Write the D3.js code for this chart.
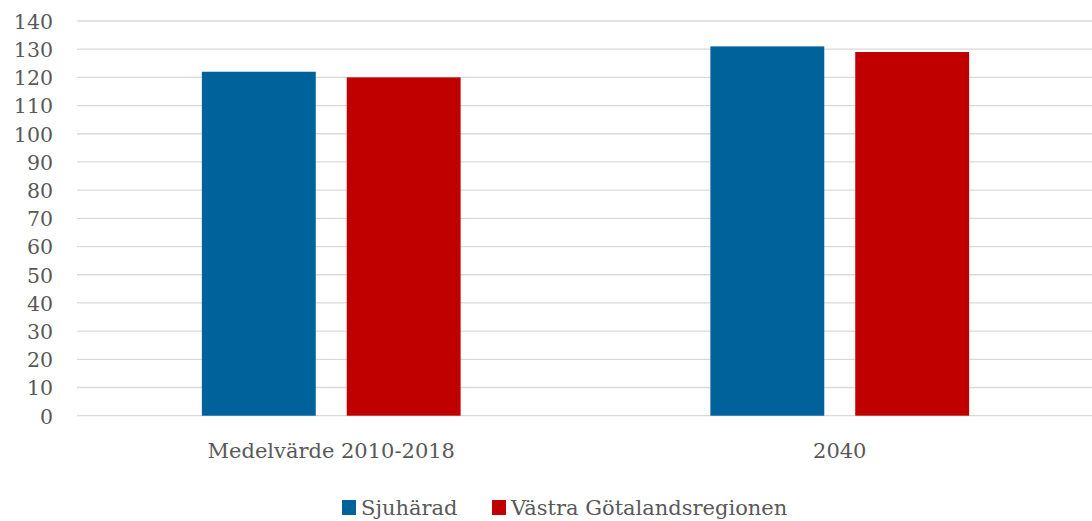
<!DOCTYPE html>
<html><head><meta charset="utf-8">
<script src="https://cdn.jsdelivr.net/npm/d3@7"></script>
<style>body{margin:0;background:#fff}svg{display:block}</style>
</head><body><svg id="c" width="1092" height="521"></svg>
<script>
const categories = ["Medelvärde 2010-2018", "2040"];
const seriesNames = ["Sjuhärad", "Västra Götalandsregionen"];
const sjuharad = [122, 131];
const vastra = [120, 129];
const yTicks = [0,10,20,30,40,50,60,70,80,90,100,110,120,130,140];
const colors = ["#00629B", "#C00000"];
const FONT = "DejaVu Serif";

const svg = d3.select("#c");
const x0 = d3.scaleBand().domain(categories).range([77, 1094]).paddingInner(0).paddingOuter(0);
const x1 = d3.scaleBand().domain(seriesNames).range([0, x0.bandwidth()]).paddingInner(0.2138).paddingOuter(0.862);
const y = d3.scaleLinear().domain([0, 140]).range([415.7, 21]);

const grid = svg.append("g");
grid.selectAll("line").data(yTicks).join("line")
  .attr("x1", 77).attr("x2", 1092)
  .attr("y1", d => y(d)).attr("y2", d => y(d))
  .attr("stroke", "#D9D9D9").attr("stroke-width", 1.3);

const yAxis = svg.append("g").attr("transform", "translate(53,0)")
  .call(d3.axisLeft(y).tickValues(yTicks).tickSize(0).tickPadding(0));
yAxis.select(".domain").remove();
yAxis.selectAll("text").attr("font-family", FONT).attr("font-size", 20.5).attr("fill", "#595959").attr("dy", "0.36em");

const data = categories.map((c, i) => ({cat: c, vals: [sjuharad[i], vastra[i]]}));
const g = svg.append("g");
data.forEach(d => {
  seriesNames.forEach((s, j) => {
    g.append("rect")
      .attr("x", x0(d.cat) + x1(s))
      .attr("width", x1.bandwidth())
      .attr("y", y(d.vals[j]))
      .attr("height", y(0) - y(d.vals[j]))
      .attr("fill", colors[j]);
  });
});

const xAxis = svg.append("g").attr("transform", "translate(0,458)");
xAxis.selectAll("text").data(categories).join("text")
  .attr("x", d => x0(d) + x0.bandwidth()/2)
  .attr("text-anchor", "middle")
  .attr("font-family", FONT).attr("font-size", 21).attr("fill", "#595959")
  .text(d => d);

const legend = svg.append("g");
const lx = [342, 492];
seriesNames.forEach((s, j) => {
  legend.append("rect").attr("x", lx[j]).attr("y", 500).attr("width", 14).attr("height", 15).attr("fill", colors[j]);
  legend.append("text").attr("x", lx[j] + 19).attr("y", 515)
    .attr("font-family", FONT).attr("font-size", 21).attr("fill", "#595959").text(s);
});
</script></body></html>
